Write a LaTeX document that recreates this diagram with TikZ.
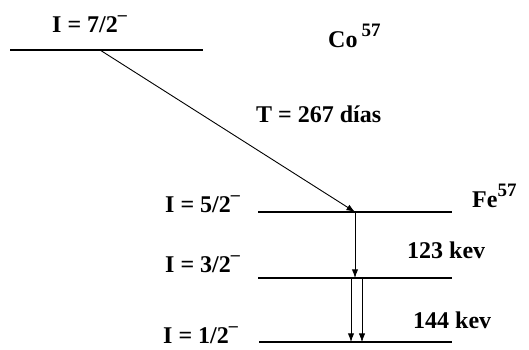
\documentclass[tikz,border=0pt]{standalone}
\usepackage{fontspec}
\setmainfont{Liberation Serif}
\usepackage{tikz}
\usetikzlibrary{positioning,arrows.meta}

\newcommand{\supmin}{\raisebox{0.5em}{\fontsize{18}{20}\selectfont –}}
\newcommand{\supnum}[1]{\raisebox{0.45em}{\fontsize{19}{20}\selectfont #1}}

\begin{document}
\begin{tikzpicture}[x=1pt, y=-1pt,
  level/.style={line width=2.8pt},
  lbl/.style={font=\bfseries\fontsize{24}{28}\selectfont, inner sep=0pt, anchor=base west},
  trans/.style={-{Latex[length=3mm, width=2.2mm]}, line width=0.9pt},
  thin trans/.style={-{Latex[length=3mm, width=2.2mm]}, line width=0.6pt}
]
\useasboundingbox (0,0) rectangle (529,349);
% levels
\coordinate (co-a) at (10,50);   \coordinate (co-b) at (203,50);
\coordinate (fe5-a) at (258,212); \coordinate (fe5-b) at (452,212);
\coordinate (fe3-a) at (258,278); \coordinate (fe3-b) at (452,278);
\coordinate (fe1-a) at (259,342); \coordinate (fe1-b) at (452,342);
\draw[level] (co-a) -- (co-b);
\draw[level] (fe5-a) -- (fe5-b);
\draw[level] (fe3-a) -- (fe3-b);
\draw[level] (fe1-a) -- (fe1-b);

% labels
\node[lbl] (i7) at (52,32) {I = 7/2\supmin};
\node[lbl] (i5) at (165,212) {I = 5/2\supmin};
\node[lbl] (i3) at (165,272) {I = 3/2\supmin};
\node[lbl] (i1) at (163,343) {I = 1/2\supmin};
\node[lbl] (co) at (328,47) {Co\,\supnum{57}};
\node[lbl] (fe) at (472,207) {Fe\supnum{57}};
\node[lbl] (half) at (256,122) {T = 267 días};
\node[lbl] (e123) at (407,258) {123 kev};
\node[lbl] (e144) at (413,328) {144 kev};

% transitions
\coordinate (src) at (100,50);
\coordinate (d5) at (355,212);
\coordinate (d3) at (355,278);
\coordinate (d3a) at (351,278);
\coordinate (d3b) at (362,278);
\coordinate (d1a) at (351,342);
\coordinate (d1b) at (362,342);
\draw[trans] (src) -- (d5);
\draw[trans] (d5) -- (d3);
\draw[trans] (d3a) -- (d1a);
\draw[thin trans] (d3b) -- (d1b);
\end{tikzpicture}
\end{document}
